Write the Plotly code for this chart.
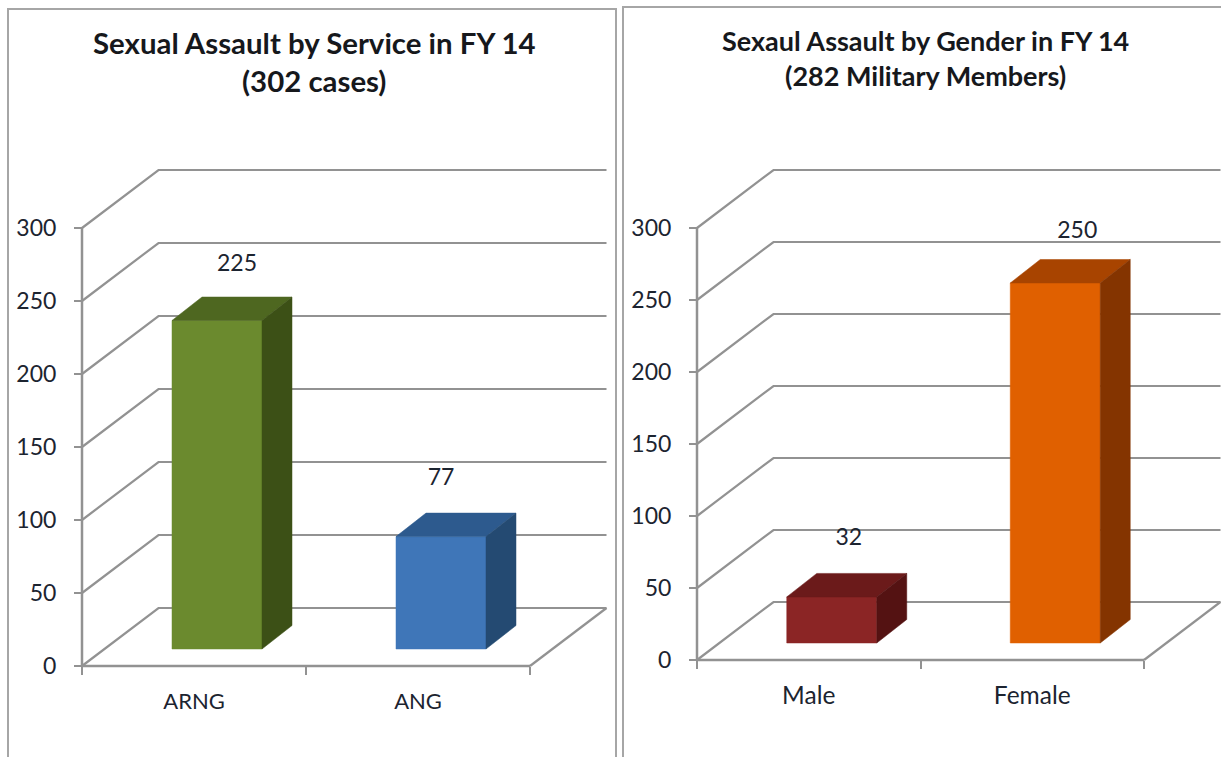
import plotly.graph_objects as go

W, H = 1221, 757
TICKS = [0, 50, 100, 150, 200, 250, 300]

service_categories = ["ARNG", "ANG"]
service_values = [225, 77]
gender_categories = ["Male", "Female"]
gender_values = [32, 250]
service_title = "Sexual Assault by Service in FY 14<br>(302 cases)"
gender_title = "Sexaul Assault by Gender in FY 14<br>(282 Military Members)"

GRID = "#929292"
TEXT = "#1c2430"
FONT = "Lato"
service_faces = [("#6b8a2e", "#4e6720", "#3c5016"), ("#3f76b8", "#2d5a8e", "#244a72")]
gender_faces = [("#8b2525", "#6b1a1a", "#541212"), ("#e06000", "#a84400", "#843400")]

fig = go.Figure()


def panel(n, cats, vals, faces, title, dom_px, x0_px, cat_px, y0_px, unit_px,
          label_nudge, title_spec, cat_size, cat_standoff):
    """Draw one pseudo-3D panel on its own axis pair, all marks derived from the values."""
    xa, ya = f"x{n}", f"y{n}"
    depth_x, depth_y = 76.5 / cat_px, 58 / unit_px
    bar_w = 90 / cat_px
    side_x, side_y = 30 / cat_px, 23.5 / unit_px
    shift_x, lift_y = 23 / cat_px, 17 / unit_px
    n_cat = len(cats)

    def line(xs, ys, color=GRID, width=2.2):
        fig.add_trace(go.Scatter(x=xs, y=ys, mode="lines", xaxis=xa, yaxis=ya, showlegend=False,
                                 hoverinfo="skip", line=dict(color=color, width=width, shape="linear")))

    for t in TICKS:
        line([0, depth_x, n_cat + depth_x], [t, t + depth_y, t + depth_y])
    line([n_cat, n_cat + depth_x], [0, depth_y])
    line([0, 0], [0, TICKS[-1]], width=2.5)
    line([0, n_cat], [0, 0], width=2.5)

    for i, (v, (front, top, side)) in enumerate(zip(vals, faces)):
        left = i + 0.5 - bar_w / 2 + shift_x
        right = left + bar_w
        base = lift_y
        tip = base + v
        polys = [
            (front, [left, right, right, left, left], [base, base, tip, tip, base]),
            (top, [left, right, right + side_x, left + side_x, left],
             [tip, tip, tip + side_y, tip + side_y, tip]),
            (side, [right, right + side_x, right + side_x, right, right],
             [base, base + side_y, tip + side_y, tip, base]),
        ]
        for color, xs, ys in polys:
            fig.add_trace(go.Scatter(x=xs, y=ys, mode="lines", fill="toself", fillcolor=color,
                                     line=dict(color=color, width=0.5), xaxis=xa, yaxis=ya,
                                     showlegend=False, hoverinfo="skip"))
        nx, ny = label_nudge[i]
        fig.add_trace(go.Scatter(x=[(left + right) / 2 + nx / cat_px], y=[tip + ny / unit_px], mode="text",
                                 text=[str(v)], textposition="middle center",
                                 textfont=dict(family=FONT, size=23, color=TEXT),
                                 xaxis=xa, yaxis=ya, showlegend=False, hoverinfo="skip"))

    d0, d1 = dom_px
    suffix = "" if n == 1 else str(n)
    fig.update_layout({
        f"xaxis{suffix}": dict(
            domain=[d0 / W, d1 / W], range=[(d0 - x0_px) / cat_px, (d1 - x0_px) / cat_px],
            anchor="free", position=(H - y0_px) / H,
            tickmode="array", tickvals=[i + 0.5 for i in range(n_cat)], ticktext=cats,
            ticks="", ticklabelstandoff=cat_standoff, showgrid=False, zeroline=False, showline=False,
            tickfont=dict(family=FONT, size=cat_size, color=TEXT),
            minor=dict(tickmode="array", tickvals=list(range(n_cat + 1)), ticks="outside",
                       ticklen=8, tickwidth=1.5, tickcolor=GRID, showgrid=False),
        ),
        f"yaxis{suffix}": dict(
            domain=[0, 1], range=[(y0_px - H) / unit_px, y0_px / unit_px],
            anchor="free", position=x0_px / W,
            tickmode="array", tickvals=TICKS, ticks="outside", ticklen=8, tickwidth=1.5, tickcolor=GRID,
            ticklabelstandoff=13, showgrid=False, zeroline=False, showline=False,
            tickfont=dict(family=FONT, size=23, color=TEXT),
        ),
    })
    fig.add_annotation(text=f"<b>{title}</b>", xref="paper", yref="paper", showarrow=False,
                       x=title_spec[0] / W, y=1 - title_spec[1] / H, xanchor="center", yanchor="middle",
                       align="center", font=dict(family=FONT, size=title_spec[2], color="#16181c"))


panel(1, service_categories, service_values, service_faces, service_title,
      (9, 615), 82, 224, 666, 1.46, [(20, 55), (0, 57)], (314, 61, 29.4), 22, 20)
panel(2, gender_categories, gender_values, gender_faces, gender_title,
      (624, 1221), 697, 223.5, 660, 1.44, [(17, 58), (22, 51)], (925, 57.5, 27), 24.5, 18)

FRAME = "#a6a6a6"
for xs, ys in [((8, 8, 616, 616), (757, 9, 9, 757)), ((623, 623, 1221), (757, 7, 7))]:
    path = "M " + " L ".join(f"{x / W} {1 - y / H}" for x, y in zip(xs, ys))
    fig.add_shape(type="path", path=path, xref="paper", yref="paper", line=dict(color=FRAME, width=2))

fig.update_layout(width=W, height=H, margin=dict(l=0, r=0, t=0, b=0), autosize=False,
                  paper_bgcolor="white", plot_bgcolor="rgba(0,0,0,0)", showlegend=False)

fig.write_html("out.html", config={"displayModeBar": False},
               post_script="document.body.style.margin='0';document.documentElement.style.overflow='hidden';")
